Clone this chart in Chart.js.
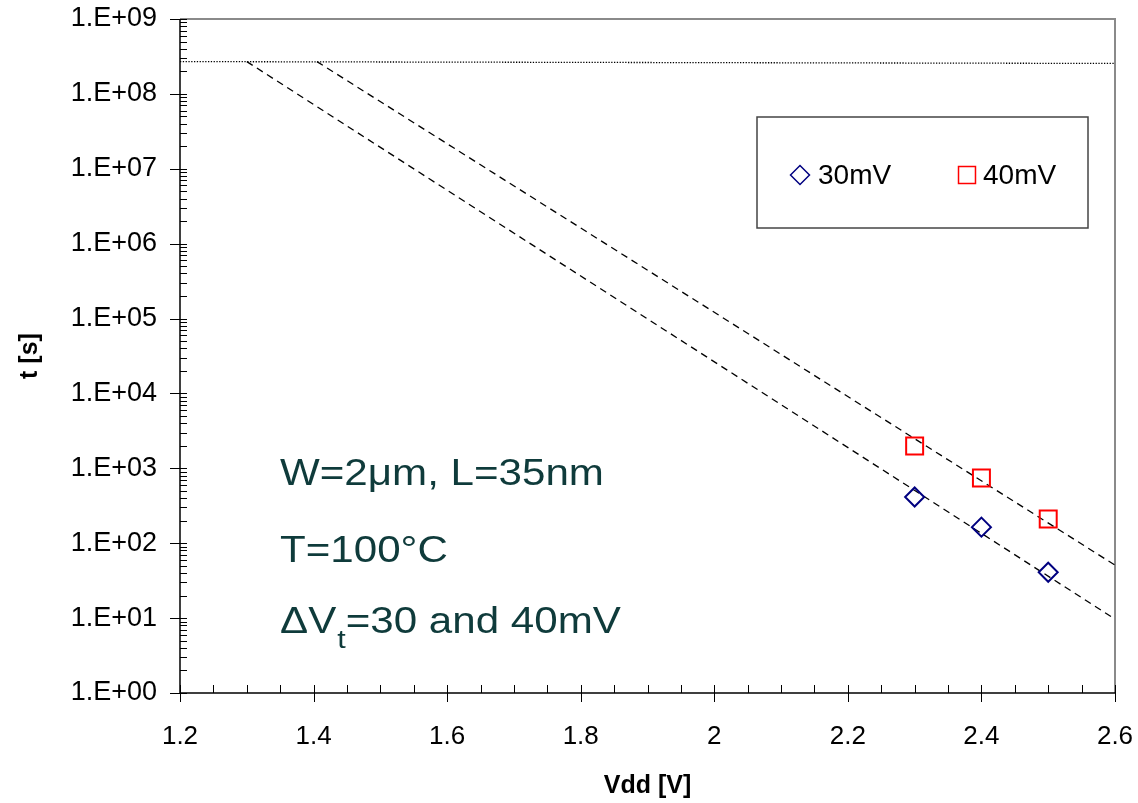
<!DOCTYPE html>
<html>
<head>
<meta charset="utf-8">
<script src="https://cdn.jsdelivr.net/npm/chart.js@4.4.1/dist/chart.umd.min.js"></script>
<style>
  html, body { margin: 0; padding: 0; background: #fff; }
  #wrap { width: 1138px; height: 803px; }
</style>
</head>
<body>
<div id="wrap"><canvas id="lifeChart" width="1138" height="803"></canvas></div>
<script>
// measured lifetimes
const vdd30 = [2.3, 2.4, 2.5];
const t30 = [414, 164, 41];
const vdd40 = [2.3, 2.4, 2.5];
const t40 = [1986, 742, 210];

// extrapolated fits (end points) and the upper limit line
const fit30X = [1.3, 2.6];
const fit30Y = [2.7e8, 9.7];
const fit40X = [1.405, 2.6];
const fit40Y = [2.7e8, 51];
const limitX = [1.2, 2.6];
const limitY = [2.7e8, 2.55e8];

// axes
const xTicks = [1.2, 1.4, 1.6, 1.8, 2, 2.2, 2.4, 2.6];
const xTickLabels = ['1.2', '1.4', '1.6', '1.8', '2', '2.2', '2.4', '2.6'];
const yTicks = [1, 1e1, 1e2, 1e3, 1e4, 1e5, 1e6, 1e7, 1e8, 1e9];
const yTickLabels = ['1.E+00', '1.E+01', '1.E+02', '1.E+03', '1.E+04', '1.E+05', '1.E+06', '1.E+07', '1.E+08', '1.E+09'];

const seriesNames = ['30mV', '40mV'];
const noteLines = ['W=2\u03bcm, L=35nm', 'T=100\u00b0C'];
const FONT = '"Liberation Sans", Arial, sans-serif';
const NOTE_COLOR = '#0f3b3b';

function pts(xs, ys) {
  return xs.map((x, i) => ({ x: x, y: ys[i] }));
}

const axesAndNotes = {
  id: 'axesAndNotes',
  beforeDatasetsDraw(chart) {
    const ctx = chart.ctx;
    const a = chart.chartArea;
    const xs = chart.scales.x, ys = chart.scales.y;
    ctx.save();
    // grey frame on top and right
    ctx.strokeStyle = '#8a8a8a';
    ctx.lineWidth = 2;
    ctx.beginPath();
    ctx.moveTo(a.left, a.top);
    ctx.lineTo(a.right, a.top);
    ctx.lineTo(a.right, a.bottom);
    ctx.stroke();

    // black axes
    ctx.strokeStyle = '#000';
    ctx.lineWidth = 1.5;
    ctx.beginPath();
    ctx.moveTo(a.left, a.top);
    ctx.lineTo(a.left, a.bottom);
    ctx.lineTo(a.right, a.bottom);
    ctx.stroke();

    ctx.lineWidth = 1;
    ctx.beginPath();
    // y ticks: majors cross the axis, minors inside
    yTicks.forEach((d, i) => {
      const py = Math.round(ys.getPixelForValue(d)) + 0.5;
      ctx.moveTo(a.left - 10, py);
      ctx.lineTo(a.left + 7, py);
      if (i < yTicks.length - 1) {
        for (let k = 2; k <= 9; k++) {
          const my = Math.round(ys.getPixelForValue(d * k)) + 0.5;
          ctx.moveTo(a.left, my);
          ctx.lineTo(a.left + 7, my);
        }
      }
    });
    // x ticks: majors every 0.2, minors every 0.05
    for (let i = 0; i <= 28; i++) {
      const v = xs.min + i * 0.05;
      const px = Math.round(xs.getPixelForValue(v)) + 0.5;
      const major = i % 4 === 0;
      ctx.moveTo(px, a.bottom - 8);
      ctx.lineTo(px, major ? a.bottom + 9 : a.bottom);
    }
    ctx.stroke();
    ctx.restore();
  },
  afterDraw(chart) {
    const ctx = chart.ctx;
    const h = Chart.helpers;
    ctx.save();

    // legend box
    ctx.fillStyle = '#fff';
    ctx.fillRect(757, 117, 331, 111);
    ctx.strokeStyle = '#444';
    ctx.lineWidth = 1.5;
    ctx.strokeRect(757, 117, 331, 111);
    const items = [
      { ds: chart.data.datasets[0], mx: 800, tx: 818 },
      { ds: chart.data.datasets[1], mx: 967, tx: 983 }
    ];
    items.forEach(it => {
      ctx.strokeStyle = it.ds.borderColor;
      ctx.fillStyle = 'rgba(0,0,0,0)';
      h.drawPoint(ctx, {
        pointStyle: it.ds.pointStyle,
        radius: it.ds.pointRadius,
        rotation: 0,
        borderWidth: it.ds.pointBorderWidth
      }, it.mx, 175);
      ctx.fillStyle = '#000';
      ctx.font = '28px ' + FONT;
      ctx.textBaseline = 'alphabetic';
      ctx.textAlign = 'left';
      ctx.fillText(it.ds.label, it.tx, 184);
    });

    // conditions text
    ctx.fillStyle = NOTE_COLOR;
    const note = (txt, x, y, size) => {
      ctx.save();
      ctx.translate(x, y);
      ctx.scale(1.17, 1);
      ctx.font = size + 'px ' + FONT;
      ctx.fillText(txt, 0, 0);
      const w = ctx.measureText(txt).width * 1.17;
      ctx.restore();
      return w;
    };
    note(noteLines[0], 280, 485, 36);
    note(noteLines[1], 280, 562, 36);
    let x = 280;
    x += note('\u0394V', x, 633, 36);
    x += note('t', x + 1, 648, 26);
    note('=30 and 40mV', x + 1, 633, 36);
    ctx.restore();
  }
};

const ctx = document.getElementById('lifeChart').getContext('2d');
const lifeChart = new Chart(ctx, {
  type: 'scatter',
  data: {
    datasets: [{
        label: seriesNames[0],
        data: pts(vdd30, t30),
        pointStyle: 'rectRot',
        pointRadius: 9.5,
        pointBorderWidth: 2,
        borderColor: '#000080',
        backgroundColor: 'rgba(0,0,0,0)',
        order: 0
      },
      {
        label: seriesNames[1],
        data: pts(vdd40, t40),
        pointStyle: 'rect',
        pointRadius: 12,
        pointBorderWidth: 2,
        borderColor: '#ff0000',
        backgroundColor: 'rgba(0,0,0,0)',
        order: 0
      },
      {
        label: 'fit 30mV',
        data: pts(fit30X, fit30Y),
        showLine: true,
        pointRadius: 0,
        borderColor: '#000',
        borderWidth: 1.3,
        borderDash: [7, 5],
        order: 1
      },
      {
        label: 'fit 40mV',
        data: pts(fit40X, fit40Y),
        showLine: true,
        pointRadius: 0,
        borderColor: '#000',
        borderWidth: 1.3,
        borderDash: [7, 5],
        order: 1
      },
      {
        label: 'limit',
        data: pts(limitX, limitY),
        showLine: true,
        pointRadius: 0,
        borderColor: '#000',
        borderWidth: 1.3,
        borderDash: [1.3, 1.5],
        order: 1
      }
    ]
  },
  options: {
    responsive: false,
    animation: false,
    layout: { padding: { left: 0, top: 19, right: 23, bottom: 0 } },
    plugins: {
      legend: { display: false },
      tooltip: { enabled: false }
    },
    scales: {
      x: {
        type: 'linear',
        min: 1.2,
        max: 2.6,
        grid: { display: false, drawTicks: false },
        border: { display: false },
        afterBuildTicks: s => { s.ticks = xTicks.map(v => ({ value: v })); },
        afterFit: s => {
          s.height = 110;
          s.paddingLeft = 0;
          s.paddingRight = 0;
        },
        ticks: {
          padding: 28,
          color: '#000',
          font: { family: FONT, size: 26 },
          callback: (v, i) => xTickLabels[i]
        },
        title: {
          display: true,
          text: 'Vdd [V]',
          color: '#000',
          font: { family: FONT, size: 25, weight: 'bold' },
          padding: { top: 0, bottom: 2 }
        }
      },
      y: {
        type: 'logarithmic',
        min: 1,
        max: 1e9,
        grid: { display: false, drawTicks: false },
        border: { display: false },
        afterBuildTicks: s => { s.ticks = yTicks.map(v => ({ value: v })); },
        afterFit: s => {
          s.width = 180;
          s.paddingTop = 0;
          s.paddingBottom = 0;
        },
        ticks: {
          padding: 23,
          color: '#000',
          font: { family: FONT, size: 27 },
          callback: (v, i) => yTickLabels[i]
        },
        title: {
          display: true,
          text: 't [s]',
          color: '#000',
          font: { family: FONT, size: 25, weight: 'bold' },
          padding: { top: 15, bottom: 0 }
        }
      }
    }
  },
  plugins: [axesAndNotes]
});
</script>
</body>
</html>
